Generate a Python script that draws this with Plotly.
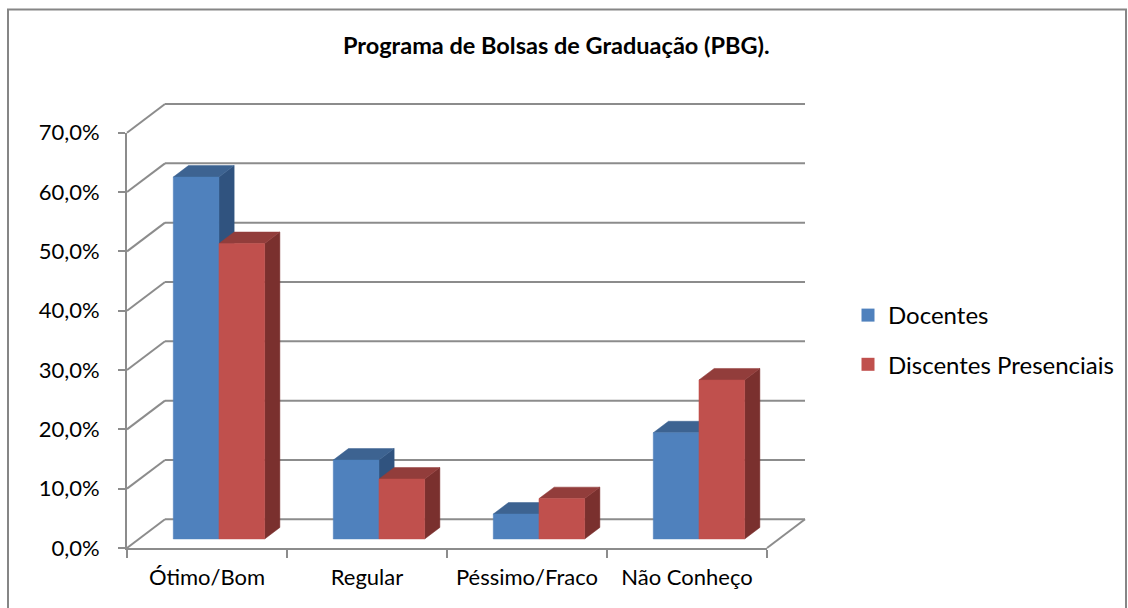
import plotly.graph_objects as go

# ---------------- data ----------------
categories = ["Ótimo/Bom", "Regular", "Péssimo/Fraco", "Não Conheço"]
docentes = [61.0, 13.3, 4.2, 17.9]
discentes = [49.8, 10.1, 6.8, 26.8]
series_names = ["Docentes", "Discentes Presenciais"]
y_ticks = [0, 10, 20, 30, 40, 50, 60, 70]
y_tick_text = [f"{v:.1f}%".replace(".", ",") for v in y_ticks]
title_text = "Programa de Bolsas de Graduação (PBG)."

# ---------------- styles ----------------
FONT = "Lato"
GRID = "#8C8C8C"
FRONT = ["#4F81BD", "#C0504D"]
TOP = ["#3D6391", "#923D3B"]
SIDE = ["#30537F", "#7A302E"]

W, H = 1128, 608
# front plane placement (pixels)
AX_L, AX_R = 127, 767
Y0_PX, YMAX_PX = 548, 132.7
YMAX = y_ticks[-1]
PX_CAT = (AX_R - AX_L) / len(categories)
PX_PCT = (Y0_PX - YMAX_PX) / YMAX

# geometry subplot (pixels)
G_L, G_R, G_T, G_B = 95, 850, 80, 565


def xr(px):
    return (px - AX_L) / PX_CAT - 0.5


def yr(py):
    return (Y0_PX - py) / PX_PCT


# depth of the 3D box in axis units
DX = 38 / PX_CAT
DY = 28.7 / PX_PCT
D0, D1 = 0.315, 0.715  # bar front / back depth fractions
BW = 45.7 / PX_CAT      # bar width in category units

fig = go.Figure()

# ---- walls: back gridlines, left wall diagonals, floor edge ----
gx, gy = [], []
x_front_l, x_front_r = -0.5, len(categories) - 0.5
for v in y_ticks:
    gx += [x_front_l + DX, x_front_r + DX, None]
    gy += [v + DY, v + DY, None]
    gx += [x_front_l, x_front_l + DX, None]
    gy += [v, v + DY, None]
gx += [x_front_r, x_front_r + DX, None]
gy += [0, DY, None]
fig.add_trace(go.Scatter(x=gx, y=gy, mode="lines", line=dict(color=GRID, width=2),
                         hoverinfo="skip", showlegend=False, xaxis="x", yaxis="y"))

# ---- bars (front, top and side faces) ----
ddx = (D1 - D0) * DX
ddy = (D1 - D0) * DY
base = D0 * DY
for s, vals in enumerate([docentes, discentes]):
    faces = {"side": ([], []), "top": ([], []), "front": ([], [])}
    for i, v in enumerate(vals):
        c = i + D0 * DX
        x0 = c - BW + s * BW
        x1 = x0 + BW
        top = base + v
        fx, fy = faces["side"]
        fx += [x1, x1 + ddx, x1 + ddx, x1, x1, None]
        fy += [base, base + ddy, top + ddy, top, base, None]
        fx, fy = faces["top"]
        fx += [x0, x1, x1 + ddx, x0 + ddx, x0, None]
        fy += [top, top, top + ddy, top + ddy, top, None]
        fx, fy = faces["front"]
        fx += [x0, x1, x1, x0, x0, None]
        fy += [base, base, top, top, base, None]
    for face, col in (("side", SIDE[s]), ("top", TOP[s]), ("front", FRONT[s])):
        fx, fy = faces[face]
        fig.add_trace(go.Scatter(x=fx, y=fy, mode="lines", fill="toself", fillcolor=col,
                                 line=dict(color=col, width=0.5), hoverinfo="skip",
                                 showlegend=False, xaxis="x", yaxis="y"))

# ---- legend entries ----
for s, name in enumerate(series_names):
    fig.add_trace(go.Scatter(x=[None], y=[None], mode="markers", name=name,
                             legendgroup=name,
                             marker=dict(symbol="square", size=13, color=FRONT[s]),
                             xaxis="x", yaxis="y"))

# ---- front axes carrier ----
fig.add_trace(go.Scatter(x=categories, y=[None] * len(categories), mode="markers",
                         marker=dict(opacity=0), hoverinfo="skip", showlegend=False,
                         xaxis="x2", yaxis="y2"))

fig.update_layout(
    width=W, height=H, autosize=False,
    margin=dict(l=0, r=0, t=0, b=0, pad=0, autoexpand=False),
    paper_bgcolor="white", plot_bgcolor="rgba(0,0,0,0)",
    font=dict(family=FONT, color="black"),
    xaxis=dict(domain=[G_L / W, G_R / W], range=[xr(G_L), xr(G_R)], visible=False,
               anchor="y", fixedrange=True, automargin=False),
    yaxis=dict(domain=[1 - G_B / H, 1 - G_T / H], range=[yr(G_B), yr(G_T)], visible=False,
               anchor="x", fixedrange=True, automargin=False),
    xaxis2=dict(domain=[AX_L / W, AX_R / W], type="category", categoryarray=categories,
                categoryorder="array", range=[-0.5, len(categories) - 0.5], anchor="y2",
                showline=True, linecolor=GRID, linewidth=2, ticks="outside", ticklen=8,
                tickwidth=2, tickcolor=GRID, tickson="boundaries", showgrid=False,
                zeroline=False, tickfont=dict(family=FONT, size=22, color="black"),
                ticklabelstandoff=9, fixedrange=True, automargin=False),
    yaxis2=dict(domain=[1 - Y0_PX / H, 1 - YMAX_PX / H], range=[0, YMAX], anchor="x2",
                tickmode="array", tickvals=y_ticks, ticktext=y_tick_text, showline=True,
                linecolor=GRID, linewidth=2, ticks="outside", ticklen=7, tickwidth=2,
                tickcolor=GRID, showgrid=False, zeroline=False,
                tickfont=dict(family=FONT, size=22, color="black"), ticklabelstandoff=14,
                fixedrange=True, automargin=False),
    legend=dict(x=848 / W, y=1 - 293 / H, xanchor="left", yanchor="top",
                font=dict(family=FONT, size=24, color="black"), tracegroupgap=15,
                bgcolor="rgba(0,0,0,0)"),
    showlegend=True,
    annotations=[dict(text="<b>" + title_text + "</b>", x=556 / W, y=1 - 45 / H,
                      xref="paper", yref="paper", xanchor="center", yanchor="middle",
                      showarrow=False, font=dict(family=FONT, size=23.5, color="black"))],
    shapes=[dict(type="rect", xref="paper", yref="paper", x0=8 / W, x1=1126 / W,
                 y0=-0.05, y1=1 - 9.5 / H, line=dict(color="#868686", width=2),
                 fillcolor="rgba(0,0,0,0)", layer="below")],
)

fig.write_html("out.html", config={"displayModeBar": False},
               post_script="document.body.style.margin='0';document.body.style.overflow='hidden';")
